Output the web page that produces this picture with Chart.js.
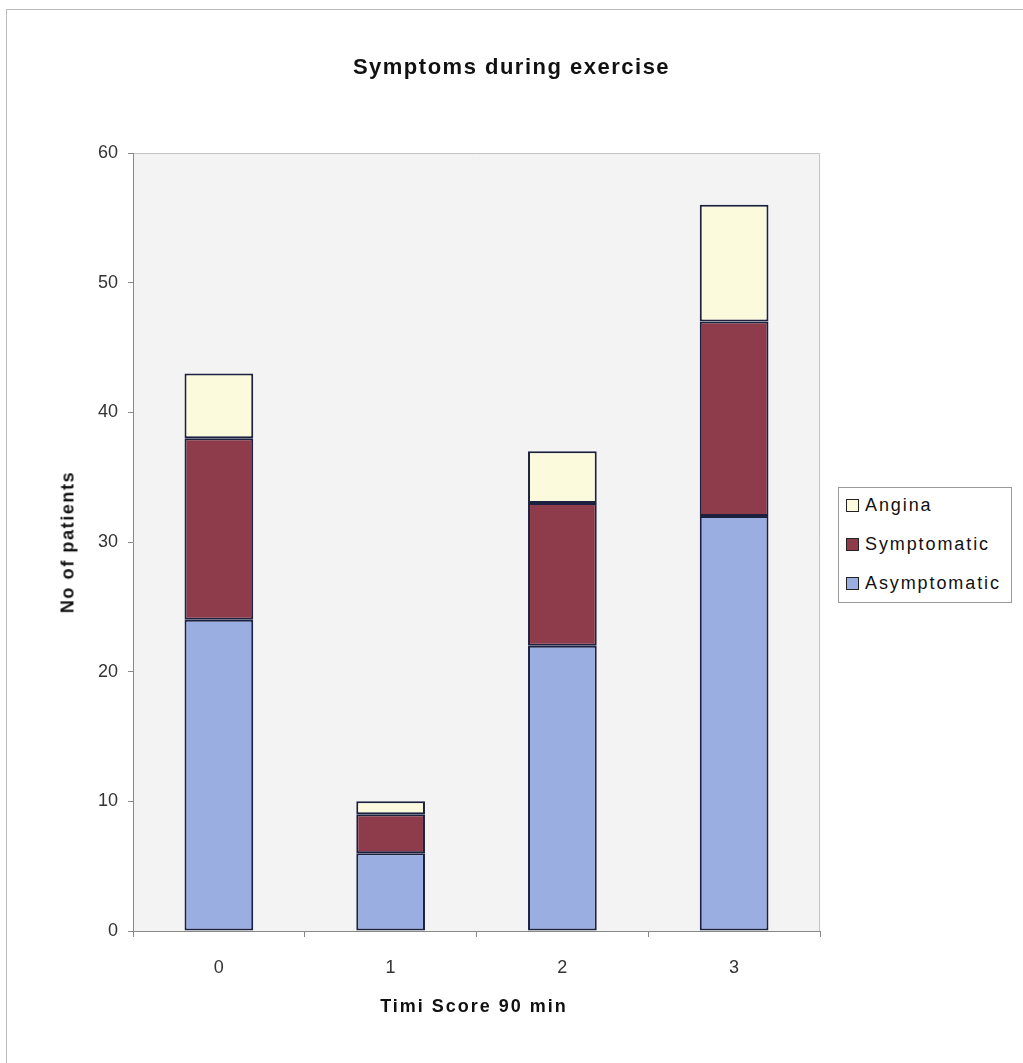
<!DOCTYPE html>
<html lang="en">
<head>
<meta charset="utf-8"/>
<title>Symptoms during exercise</title>
<style>
  body { margin: 0; background: #fff; font-family: "Liberation Sans", Arial, sans-serif; }
  #wrap { position: relative; width: 1023px; height: 1063px; }
  canvas { position: absolute; left: 0; top: 0; }
  .frame-top { position: absolute; left: 6px; top: 9px; width: 1017px; height: 1px; background: #bbb; }
  .frame-left { position: absolute; left: 6px; top: 9px; width: 1px; height: 1054px; background: #bbb; }
  .txt { position: absolute; font-weight: bold; color: #111; white-space: nowrap; }
  #title { left: 0; width: 1023px; top: 54px; text-align: center; font-size: 22px; letter-spacing: 1.5px; }
  #xtitle { left: 274px; width: 400px; top: 996px; text-align: center; font-size: 18px; letter-spacing: 2px; }
  #ytitle { left: 68px; top: 542px; font-size: 18px; letter-spacing: 1.6px; transform: translate(-50%, -50%) rotate(-90deg); }
  #legend { position: absolute; left: 838px; top: 487px; width: 172px; height: 114px; border: 1px solid #999; background: #fff; }
  #legend div { position: absolute; left: 7px; font-size: 18px; color: #111; letter-spacing: 1.9px; }
  #legend span { display: inline-block; width: 11px; height: 11px; border: 1px solid #222; margin-right: 6px; vertical-align: -1px; }
</style>
</head>
<body>
<div id="wrap">
  <canvas id="chart" width="1023" height="1063"></canvas>
  <div class="frame-top"></div>
  <div class="frame-left"></div>
  <div class="txt" id="title">Symptoms during exercise</div>
  <div class="txt" id="xtitle">Timi Score 90 min</div>
  <div class="txt" id="ytitle">No of patients</div>
  <div id="legend"></div>
</div>
<script src="https://cdn.jsdelivr.net/npm/chart.js"></script>
<script>
const categories = ["0", "1", "2", "3"];
const asymptomatic = [24, 6, 22, 32];
const symptomatic = [14, 3, 11, 15];
const angina = [5, 1, 4, 9];
const seriesNames = ["Asymptomatic", "Symptomatic", "Angina"];
const seriesColors = ["#9aaee2", "#8e3b4c", "#fcfadc"];

// plot area background + light top/right edge
const plotBg = {
  id: "plotBg",
  beforeDraw(chart) {
    const a = chart.chartArea, c = chart.ctx;
    c.save();
    c.fillStyle = "#f3f3f3";
    c.fillRect(a.left, a.top, a.right - a.left, a.bottom - a.top);
    c.strokeStyle = "#c4c4c4";
    c.lineWidth = 1;
    c.beginPath();
    c.moveTo(a.left, a.top + 0.5);
    c.lineTo(a.right - 0.5, a.top + 0.5);
    c.lineTo(a.right - 0.5, a.bottom);
    c.stroke();
    c.restore();
  }
};

const values = [asymptomatic, symptomatic, angina];
const datasets = seriesNames.map((name, i) => ({
  label: name,
  data: values[i],
  backgroundColor: seriesColors[i],
  borderColor: "#1d2140",
  borderWidth: 2,
  borderSkipped: false,
  categoryPercentage: 1,
  barPercentage: 0.4
}));

new Chart(document.getElementById("chart"), {
  type: "bar",
  data: { labels: categories, datasets },
  options: {
    responsive: false,
    animation: false,
    layout: { padding: { left: 0, right: 203, top: 153, bottom: 62 } },
    plugins: { legend: { display: false }, title: { display: false }, tooltip: { enabled: false } },
    scales: {
      x: {
        stacked: true,
        afterFit(s) { s.height = 70; },
        grid: { offset: true, drawOnChartArea: false, drawTicks: true, tickLength: 6, color: "#888" },
        border: { color: "#888", width: 1 },
        ticks: { color: "#333", font: { size: 18, family: "Liberation Sans" }, padding: 20 }
      },
      y: {
        stacked: true,
        min: 0, max: 60,
        afterFit(s) { s.width = 133; },
        grid: { drawOnChartArea: false, drawTicks: true, tickLength: 5, color: "#888" },
        border: { color: "#888", width: 1 },
        ticks: { stepSize: 10, color: "#333", font: { size: 18, family: "Liberation Sans" }, padding: 10 }
      }
    }
  },
  plugins: [plotBg]
});

// legend, top to bottom in reverse stacking order
const legend = document.getElementById("legend");
[2, 1, 0].forEach((i, row) => {
  const d = document.createElement("div");
  d.style.top = (7 + row * 39) + "px";
  d.innerHTML = `<span style="background:${seriesColors[i]}"></span>${seriesNames[i]}`;
  legend.appendChild(d);
});
</script>
</body>
</html>
